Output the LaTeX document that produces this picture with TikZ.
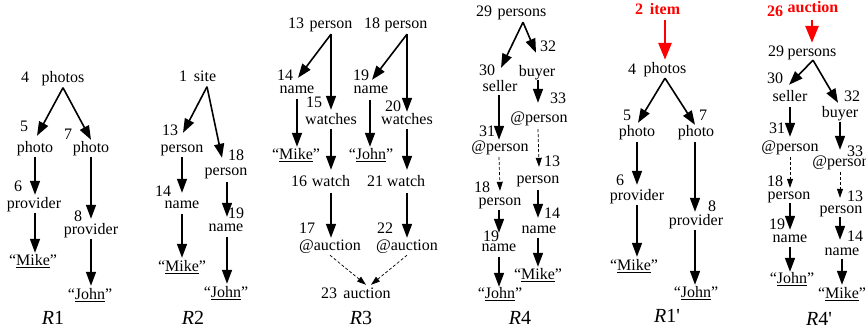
\documentclass[tikz,border=0pt]{standalone}
\usepackage{fontspec}
\setmainfont{Liberation Serif}
\usetikzlibrary{arrows.meta}
\newcommand\lblfont{\fontsize{16}{18}\selectfont}
\begin{document}
\begin{tikzpicture}[x=1pt,y=-1pt,
 lbl/.style={inner sep=0pt,text height=10pt,text depth=3pt,font=\lblfont},
 num/.style={lbl},
 redlbl/.style={lbl,font={\lblfont\bfseries},text=red},
 rname/.style={inner sep=0pt,font=\fontsize{20}{22}\selectfont},
 arr/.style={line width=1.6pt,-{Triangle[width=10pt,length=14pt]}},
 darr/.style={line width=0.7pt,dash pattern=on 3pt off 2pt,-{Triangle[width=6pt,length=9pt]}},
 rarr/.style={draw=red,line width=2.8pt,-{Triangle[width=13pt,length=17pt]}}]
\useasboundingbox (0,0) rectangle (866,330);

% ---------------- R1
\node[num] (r1n4) at (25,79) {4};
\node[lbl] (r1photos) at (63,79) {photos};
\node[num] (r1n5) at (24,128) {5};
\node[lbl] (r1p5) at (35,149) {photo};
\node[num] (r1n7) at (68,136) {7};
\node[lbl] (r1p7) at (91,149) {photo};
\node[num] (r1n6) at (18,188) {6};
\node[lbl] (r1pr6) at (34,205) {provider};
\node[num] (r1n8) at (78,218) {8};
\node[lbl] (r1pr8) at (91,231) {provider};
\node[lbl] (r1mike) at (33,262) {“\underline{Mike}”};
\node[lbl] (r1john) at (90,296) {“\underline{John}”};
\node[rname] (r1lab) at (53,318) {{\itshape R}1};
\draw[arr] ([shift={(0,2)}]r1photos.south) -- ([shift={(2,-6.5)}]r1p5.north);
\draw[arr] ([shift={(0,2)}]r1photos.south) -- ([shift={(0,-2.5)}]r1p7.north);
\draw[arr] ([shift={(0,1.5)}]r1p5.south) -- ([shift={(1,-3.5)}]r1pr6.north);
\draw[arr] ([shift={(1,1.5)}]r1pr6.south) -- ([shift={(2,-2.5)}]r1mike.north);
\draw[arr] ([shift={(0,1.5)}]r1p7.south) -- ([shift={(0,-5.5)}]r1pr8.north);
\draw[arr] ([shift={(0,1.5)}]r1pr8.south) -- ([shift={(1,-3.5)}]r1john.north);

% ---------------- R2
\node[num] (r2n1) at (183,78) {1};
\node[lbl] (r2site) at (205,78) {site};
\node[num] (r2n13) at (170,132) {13};
\node[lbl] (r2p13) at (182,149) {person};
\node[num] (r2n18) at (236,157) {18};
\node[lbl] (r2p18) at (226,172) {person};
\node[num] (r2n14) at (163,193) {14};
\node[lbl] (r2nm14) at (182,205) {name};
\node[num] (r2n19) at (236,215) {19};
\node[lbl] (r2nm19) at (226,228) {name};
\node[lbl] (r2mike) at (182,268) {“\underline{Mike}”};
\node[lbl] (r2john) at (226,294) {“\underline{John}”};
\node[rname] (r2lab) at (193,318) {{\itshape R}2};
\draw[arr] ([shift={(2,2)}]r2site.south) -- ([shift={(1,-9.5)}]r2p13.north);
\draw[arr] ([shift={(2,2)}]r2site.south) -- ([shift={(-4,-7.5)}]r2p18.north);
\draw[arr] ([shift={(0,1.5)}]r2p13.south) -- ([shift={(0,-5.5)}]r2nm14.north);
\draw[arr] ([shift={(0,2.5)}]r2nm14.south) -- ([shift={(0,-3.5)}]r2mike.north);
\draw[arr] ([shift={(1,3.5)}]r2p18.south) -- ([shift={(1,-4.5)}]r2nm19.north);
\draw[arr] ([shift={(1,2.5)}]r2nm19.south) -- ([shift={(1,-3.5)}]r2john.north);

% ---------------- R3
\node[num] (r3n13) at (296,25) {13};
\node[lbl] (r3p13) at (331,25) {person};
\node[num] (r3n18) at (372,25) {18};
\node[lbl] (r3p18) at (406,25) {person};
\node[num] (r3n14) at (285,77) {14};
\node[lbl] (r3nm14) at (297,90) {name};
\node[num] (r3n15) at (314,104) {15};
\node[lbl] (r3w15) at (331,121) {watches};
\node[lbl] (r3mike) at (296,156) {“\underline{Mike}”};
\node[num] (r3n16) at (299,183) {16};
\node[lbl] (r3w16) at (331,183) {watch};
\node[num] (r3n17) at (307,230) {17};
\node[lbl] (r3a17) at (330,247) {@auction};
\node[num] (r3n19) at (361,77) {19};
\node[lbl] (r3nm19) at (371,90) {name};
\node[num] (r3n20) at (393,108) {20};
\node[lbl] (r3w20) at (407,121) {watches};
\node[lbl] (r3john) at (371,156) {“\underline{John}”};
\node[num] (r3n21) at (375,183) {21};
\node[lbl] (r3w21) at (406,183) {watch};
\node[num] (r3n22) at (385,230) {22};
\node[lbl] (r3a22) at (407,247) {@auction};
\node[num] (r3n23) at (329,295) {23};
\node[lbl] (r3a23) at (367,295) {auction};
\node[rname] (r3lab) at (361,318) {{\itshape R}3};
\draw[arr] ([shift={(0,2.5)}]r3p13.south) -- ([shift={(1,-5.5)}]r3nm14.north);
\draw[arr] ([shift={(0,2.5)}]r3p13.south) -- ([shift={(0,-4.5)}]r3w15.north);
\draw[arr] ([shift={(0,2.5)}]r3nm14.south) -- ([shift={(1,-2.5)}]r3mike.north);
\draw[arr] ([shift={(0,1.5)}]r3w15.south) -- ([shift={(0,-6.5)}]r3w16.north);
\draw[arr] ([shift={(0,3.5)}]r3w16.south) -- ([shift={(1,-2.5)}]r3a17.north);
\draw[arr] ([shift={(1,2.5)}]r3p18.south) -- ([shift={(1,-3.5)}]r3nm19.north);
\draw[arr] ([shift={(1,2.5)}]r3p18.south) -- ([shift={(0,-2.5)}]r3w20.north);
\draw[arr] ([shift={(-1,3)}]r3nm19.south) -- ([shift={(-1,-2.5)}]r3john.north);
\draw[arr] ([shift={(0,1.5)}]r3w20.south) -- ([shift={(1,-6.5)}]r3w21.north);
\draw[arr] ([shift={(1,3.5)}]r3w21.south) -- ([shift={(0,-2.5)}]r3a22.north);
\draw[darr] ([shift={(0,1.5)}]r3a17.south) -- ([shift={(-1,-3.5)}]r3a23.north);
\draw[darr] ([shift={(0,1.5)}]r3a22.south) -- ([shift={(4,-3.5)}]r3a23.north);

% ---------------- R4
\node[num] (r4n29) at (484,13) {29};
\node[lbl] (r4ps) at (522,13) {persons};
\node[num] (r4n30) at (487,72) {30};
\node[lbl] (r4sel) at (500,88) {seller};
\node[num] (r4n32) at (548,48) {32};
\node[lbl] (r4buy) at (537,73) {buyer};
\node[num] (r4n31) at (487,133) {31};
\node[lbl] (r4a31) at (500,148) {@person};
\node[num] (r4n33) at (558,100) {33};
\node[lbl] (r4a33) at (539,119) {@person};
\node[num] (r4n18) at (482,189) {18};
\node[lbl] (r4p18) at (500,202) {person};
\node[num] (r4n13) at (552,163) {13};
\node[lbl] (r4p13) at (538,180) {person};
\node[num] (r4n19) at (491,238) {19};
\node[lbl] (r4nm19) at (499,248) {name};
\node[num] (r4n14) at (552,215) {14};
\node[lbl] (r4nm14) at (539,230) {name};
\node[lbl] (r4john) at (500,295) {“\underline{John}”};
\node[lbl] (r4mike) at (538,276) {“\underline{Mike}”};
\node[rname] (r4lab) at (520,318) {{\itshape R}4};
\draw[arr] ([shift={(1,2.5)}]r4ps.south) -- ([shift={(1,-13.5)}]r4sel.north);
\draw[arr] ([shift={(1,2.5)}]r4ps.south) -- ([shift={(-1,-13.5)}]r4buy.north);
\draw[arr] ([shift={(-1,0.5)}]r4sel.south) -- ([shift={(-1,-1.5)}]r4a31.north);
\draw[darr] ([shift={(-1,2.5)}]r4a31.south) -- ([shift={(0,-4.5)}]r4p18.north);
\draw[arr] ([shift={(-1,1)}]r4p18.south) -- ([shift={(0,-8.5)}]r4nm19.north);
\draw[arr] ([shift={(0,2.5)}]r4nm19.south) -- ([shift={(-1,-1.5)}]r4john.north);
\draw[arr] ([shift={(1,0.5)}]r4buy.south) -- ([shift={(-1,-9.5)}]r4a33.north);
\draw[darr] ([shift={(-1,3.5)}]r4a33.south) -- ([shift={(1,-6.5)}]r4p13.north);
\draw[arr] ([shift={(0,3.5)}]r4p13.south) -- ([shift={(-1,-5.5)}]r4nm14.north);
\draw[arr] ([shift={(-1,1.5)}]r4nm14.south) -- ([shift={(0,-2.5)}]r4mike.north);

% ---------------- R1'
\node[redlbl] (r1qn2) at (639,11) {2};
\node[redlbl] (r1qitem) at (665,11) {item};
\node[num] (r1qn4) at (632,71) {4};
\node[lbl] (r1qphotos) at (665,70) {photos};
\node[num] (r1qn5) at (627,117) {5};
\node[lbl] (r1qp5) at (637,133) {photo};
\node[num] (r1qn7) at (703,117) {7};
\node[lbl] (r1qp7) at (696,133) {photo};
\node[num] (r1qn6) at (620,182) {6};
\node[lbl] (r1qpr6) at (637,197) {provider};
\node[num] (r1qn8) at (712,208) {8};
\node[lbl] (r1qpr8) at (696,222) {provider};
\node[lbl] (r1qmike) at (634,267) {“\underline{Mike}”};
\node[lbl] (r1qjohn) at (696,294) {“\underline{John}”};
\node[rname] (r1qlab) at (667,316) {{\itshape R}1\textquotesingle};
\draw[rarr] ([shift={(0,2.5)}]r1qitem.south) -- ([shift={(0,-3.5)}]r1qphotos.north);
\draw[arr] ([shift={(0,1.5)}]r1qphotos.south) -- ([shift={(1,-3.5)}]r1qp5.north);
\draw[arr] ([shift={(0,1.5)}]r1qphotos.south) -- ([shift={(-1,-1.5)}]r1qp7.north);
\draw[arr] ([shift={(0,2.5)}]r1qp5.south) -- ([shift={(0,-5.5)}]r1qpr6.north);
\draw[arr] ([shift={(0,1.5)}]r1qpr6.south) -- ([shift={(3,-3.5)}]r1qmike.north);
\draw[arr] ([shift={(-1,2.5)}]r1qp7.south) -- ([shift={(-1,-3.5)}]r1qpr8.north);
\draw[arr] ([shift={(-1,1.5)}]r1qpr8.south) -- ([shift={(-1,-2.5)}]r1qjohn.north);

% ---------------- R4'
\node[redlbl] (r4qn26) at (775,13) {26};
\node[redlbl] (r4qauc) at (813,9) {auction};
\node[num] (r4qn29) at (776,53) {29};
\node[lbl] (r4qps) at (812,53) {persons};
\node[num] (r4qn30) at (775,80) {30};
\node[lbl] (r4qsel) at (790,98) {seller};
\node[num] (r4qn32) at (852,98) {32};
\node[lbl] (r4qbuy) at (840,114) {buyer};
\node[num] (r4qn31) at (777,130) {31};
\node[lbl] (r4qa31) at (790,148) {@person};
\node[num] (r4qn33) at (855,153) {33};
\node[lbl] (r4qa33) at (841,163) {@person};
\node[num] (r4qn18) at (775,183) {18};
\node[lbl] (r4qp18) at (789,196) {person};
\node[num] (r4qn13) at (855,198) {13};
\node[lbl] (r4qp13) at (841,210) {person};
\node[num] (r4qn19) at (777,226) {19};
\node[lbl] (r4qnm19) at (790,239) {name};
\node[num] (r4qn14) at (855,238) {14};
\node[lbl] (r4qnm14) at (842,252) {name};
\node[lbl] (r4qjohn) at (792,280) {“\underline{John}”};
\node[lbl] (r4qmike) at (842,295) {“\underline{Mike}”};
\node[rname] (r4qlab) at (819,319) {{\itshape R}4\textquotesingle};
\draw[rarr] ([shift={(-1,4.5)}]r4qauc.south) -- ([shift={(0,-3.5)}]r4qps.north);
\draw[arr] ([shift={(1,0.5)}]r4qps.south) -- ([shift={(-1,-6.5)}]r4qsel.north);
\draw[arr] ([shift={(1,0.5)}]r4qps.south) -- ([shift={(-2,-4.5)}]r4qbuy.north);
\draw[arr] ([shift={(0,2.5)}]r4qsel.south) -- ([shift={(0,-4.5)}]r4qa31.north);
\draw[darr] ([shift={(0,2.5)}]r4qa31.south) -- ([shift={(1,-1.5)}]r4qp18.north);
\draw[arr] ([shift={(1,0.5)}]r4qp18.south) -- ([shift={(0,-2.5)}]r4qnm19.north);
\draw[arr] ([shift={(0,1.5)}]r4qnm19.south) -- ([shift={(-2,-1.5)}]r4qjohn.north);
\draw[arr] ([shift={(0,1)}]r4qbuy.south) -- ([shift={(-1,-6.5)}]r4qa33.north);
\draw[darr] ([shift={(-1,2.5)}]r4qa33.south) -- ([shift={(-1,-5.5)}]r4qp13.north);
\draw[arr] ([shift={(-1,0.5)}]r4qp13.south) -- ([shift={(-2,-5.5)}]r4qnm14.north);
\draw[arr] (r4qnm14.south) -- ([shift={(0,-3.5)}]r4qmike.north);
\end{tikzpicture}
\end{document}
